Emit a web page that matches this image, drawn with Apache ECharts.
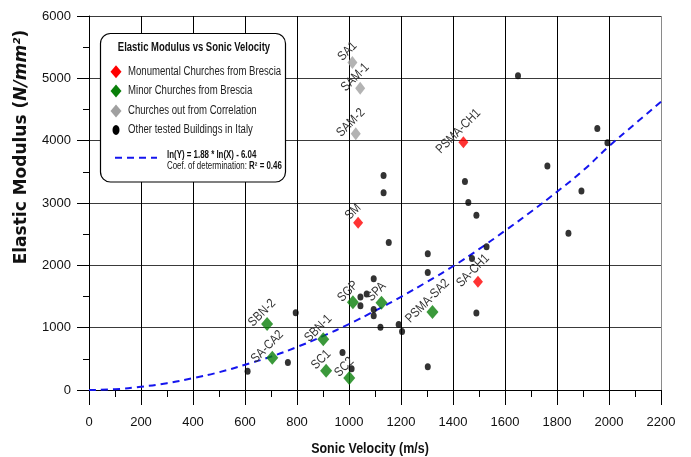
<!DOCTYPE html>
<html><head><meta charset="utf-8">
<script src="https://cdn.jsdelivr.net/npm/echarts@6/dist/echarts.min.js"></script>
<style>html,body{margin:0;padding:0;background:#fff}#c{width:691px;height:457px}</style>
</head><body><div id="c"></div>
<script>
// ---- data ----
const otherX = [610, 765, 795, 975, 1010, 1044, 1044, 1068, 1095, 1095, 1095, 1121, 1133, 1133, 1153, 1191, 1204, 1303, 1303, 1303, 1446, 1459, 1473, 1490, 1490, 1529, 1650, 1763, 1844, 1894, 1955, 1994];
const otherY = [300, 440, 1240, 600, 340, 1490, 1350, 1540, 1785, 1290, 1190, 1005, 3440, 3165, 2365, 1050, 940, 2185, 1885, 375, 3345, 3010, 2110, 2805, 1237, 2300, 5042, 3593, 2513, 3192, 4197, 3967];

const monumentalNames = ['PSMA-CH1', 'SA-CH1', 'SM'];
const monumentalX = [1440, 1496, 1035];
const monumentalY = [3973, 1738, 2684];

const minorNames = ['SBN-2', 'SA-CA2', 'SBN-1', 'SC1', 'SC2', 'SGP', 'SPA', 'PSMA-SA2'];
const minorX = [685, 705, 901, 912, 1001, 1015, 1125, 1321];
const minorY = [1059, 518, 813, 310, 192, 1406, 1401, 1251];

const outNames = ['SA1', 'SAM-1', 'SAM-2'];
const outX = [1013, 1043, 1026];
const outY = [5256, 4839, 4112];

const trendX = [0, 100, 200, 300, 400, 500, 600, 700, 800, 900, 1000, 1100, 1200, 1300, 1400, 1500, 1600, 1700, 1800, 1900, 2000, 2100, 2200];
const trendY = [0, 12, 52, 110, 190, 285, 405, 535, 690, 865, 1058, 1270, 1495, 1735, 1985, 2260, 2555, 2860, 3180, 3520, 3910, 4270, 4625];

const legendTitle = 'Elastic Modulus vs Sonic Velocity';
const legendNames = ['Monumental Churches from Brescia', 'Minor Churches from Brescia', 'Churches out from Correlation', 'Other tested Buildings in Italy'];
const fitLine1 = 'ln(Y) = 1.88 * ln(X) - 6.04';
const fitLine2a = 'Coef. of determination: ';
const fitLine2b = 'R² = 0.46';
const xTitle = 'Sonic Velocity (m/s)';
const yTitleA = 'Elastic Modulus (';
const yTitleB = 'N/mm²';
const yTitleC = ')';

// ---- build ----
const FONT = "'Liberation Sans', Arial, sans-serif";
const NX = 0.8; // horizontal squeeze to imitate the narrow typeface
const zip = (xs, ys) => xs.map((x, i) => [x, ys[i]]);
const labelPts = [].concat(zip(monumentalX, monumentalY), zip(minorX, minorY), zip(outX, outY));
const labelNames = [].concat(monumentalNames, minorNames, outNames);

const vColors = []; for (let i = 0; i < 12; i++) vColors.push(i === 11 ? '#8a8a8a' : '#000');

const chart = echarts.init(document.getElementById('c'), null, {renderer: 'canvas'});

const legRowsY = [71.7, 91, 111, 130];
const diamond = (cx, cy, w, h) => [[cx, cy - h / 2], [cx + w / 2, cy], [cx, cy + h / 2], [cx - w / 2, cy]];

chart.setOption({
  animation: false,
  backgroundColor: '#fff',
  grid: {left: 89, top: 16, right: 30, bottom: 67, containLabel: false},
  xAxis: {
    type: 'value', min: 0, max: 2200, interval: 200,
    axisLine: {show: true, onZero: false, lineStyle: {color: '#000', width: 1}},
    axisTick: {show: true, inside: false, length: 15, lineStyle: {color: '#000'}},
    minorTick: {show: true, splitNumber: 2, length: 7, lineStyle: {color: '#000'}},
    axisLabel: {margin: 26, fontFamily: FONT, fontSize: 13, color: '#111', formatter: v => String(v)},
    splitLine: {show: true, lineStyle: {color: vColors, width: 1}}
  },
  yAxis: {
    type: 'value', min: 0, max: 6000, interval: 1000,
    axisLine: {show: true, onZero: false, lineStyle: {color: '#000', width: 1}},
    axisTick: {show: true, inside: false, length: 12, lineStyle: {color: '#000'}},
    minorTick: {show: true, splitNumber: 2, length: 6, lineStyle: {color: '#000'}},
    axisLabel: {margin: 18, fontFamily: FONT, fontSize: 13, color: '#111', formatter: v => String(v)},
    splitLine: {show: true, lineStyle: {color: '#3a3a3a', width: 1}}
  },
  series: [
    {
      type: 'line', data: zip(trendX, trendY), smooth: true, showSymbol: false, z: 2,
      lineStyle: {color: '#1515ee', width: 2, type: [7, 5]}, silent: true
    },
    {
      name: legendNames[3], type: 'scatter', data: zip(otherX, otherY), symbol: 'circle', symbolSize: [6, 7], z: 3,
      itemStyle: {color: '#000'}
    },
    {
      name: legendNames[1], type: 'scatter', data: zip(minorX, minorY), symbol: 'diamond', symbolSize: [12, 14], z: 4,
      itemStyle: {color: '#0a800a'}
    },
    {
      name: legendNames[0], type: 'scatter', data: zip(monumentalX, monumentalY), symbol: 'diamond', symbolSize: [10, 12], z: 4,
      itemStyle: {color: '#ff0000'}
    },
    {
      name: legendNames[2], type: 'scatter', data: zip(outX, outY), symbol: 'diamond', symbolSize: [10, 13], z: 4,
      itemStyle: {color: '#a0a0a0'}
    },
    {
      type: 'custom', coordinateSystem: 'cartesian2d', data: labelPts, z: 5, silent: true,
      encode: {x: 0, y: 1},
      renderItem: function (params, api) {
        const p = api.coord([api.value(0), api.value(1)]);
        return {
          type: 'text', x: p[0] - 5, y: p[1] - 11, rotation: Math.PI / 4, scaleX: 0.85,
          style: {text: labelNames[params.dataIndex], font: '13px ' + FONT, fill: '#333', align: 'center', verticalAlign: 'middle'}
        };
      }
    }
  ],
  graphic: [
    {type: 'rect', z: 100, shape: {x: 100.5, y: 33.5, width: 185, height: 148.5, r: 10}, style: {fill: '#fff', stroke: '#000', lineWidth: 1.2}},
    {type: 'text', z: 101, x: 194, y: 48, scaleX: 0.79, style: {text: legendTitle, font: 'bold 12px ' + FONT, fill: '#111', align: 'center', verticalAlign: 'middle'}},
    {type: 'polygon', z: 101, shape: {points: diamond(116, legRowsY[0], 11, 13)}, style: {fill: '#ff0000'}},
    {type: 'polygon', z: 101, shape: {points: diamond(116, legRowsY[1], 11, 13)}, style: {fill: '#0a800a'}},
    {type: 'polygon', z: 101, shape: {points: diamond(116, legRowsY[2], 11, 13)}, style: {fill: '#a0a0a0'}},
    {type: 'ellipse', z: 101, shape: {cx: 116, cy: legRowsY[3], rx: 3.5, ry: 5}, style: {fill: '#000'}},
    {type: 'text', z: 101, x: 128, y: legRowsY[0], scaleX: NX, style: {text: legendNames[0], font: '12px ' + FONT, fill: '#222', verticalAlign: 'middle'}},
    {type: 'text', z: 101, x: 128, y: legRowsY[1], scaleX: NX, style: {text: legendNames[1], font: '12px ' + FONT, fill: '#222', verticalAlign: 'middle'}},
    {type: 'text', z: 101, x: 128, y: legRowsY[2], scaleX: NX, style: {text: legendNames[2], font: '12px ' + FONT, fill: '#222', verticalAlign: 'middle'}},
    {type: 'text', z: 101, x: 128, y: legRowsY[3], scaleX: NX, style: {text: legendNames[3], font: '12px ' + FONT, fill: '#222', verticalAlign: 'middle'}},
    {type: 'line', z: 101, shape: {x1: 115, y1: 157.7, x2: 157, y2: 157.7}, style: {stroke: '#1515ee', lineWidth: 2, lineDash: [7, 5]}},
    {type: 'text', z: 101, x: 167, y: 155, scaleX: 0.79, style: {text: fitLine1, font: 'bold 10px ' + FONT, fill: '#111', verticalAlign: 'middle'}},
    {type: 'text', z: 101, x: 167, y: 166, scaleX: 0.79, style: {
      text: '{n|' + fitLine2a + '}{b|' + fitLine2b + '}', verticalAlign: 'middle',
      rich: {n: {fontFamily: FONT, fontSize: 10, fill: '#111'}, b: {fontFamily: FONT, fontSize: 10, fontWeight: 'bold', fill: '#111'}}
    }},
    {type: 'text', z: 101, x: 370, y: 449, scaleX: 0.83, style: {text: xTitle, font: 'bold 15px ' + FONT, fill: '#111', align: 'center', verticalAlign: 'middle'}},
    {type: 'text', z: 101, x: 22, y: 147, rotation: Math.PI / 2, style: {
      text: '{a|' + yTitleA + '}{i|' + yTitleB + '}{a|' + yTitleC + '}', align: 'center', verticalAlign: 'middle',
      rich: {
        a: {fontFamily: 'DejaVu Sans', fontWeight: 'bold', fontSize: 17, fill: '#111'},
        i: {fontFamily: 'DejaVu Sans', fontWeight: 'bold', fontStyle: 'italic', fontSize: 17, fill: '#111'}
      }
    }}
  ]
});
</script></body></html>
